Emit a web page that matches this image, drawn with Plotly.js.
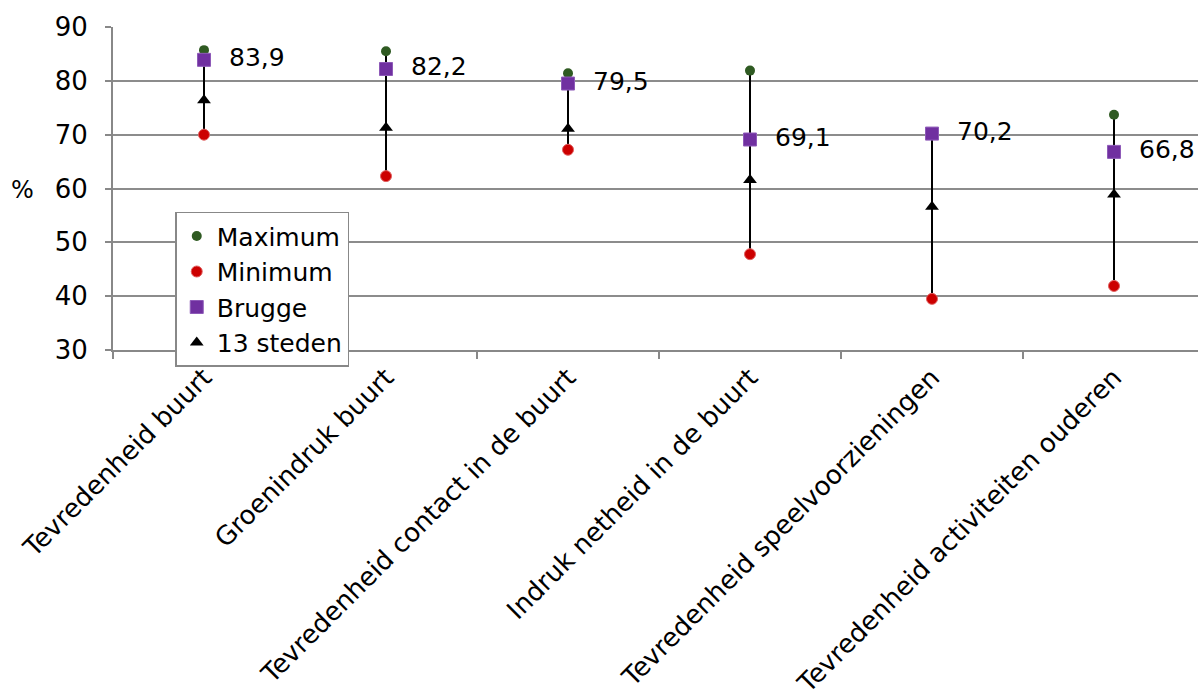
<!DOCTYPE html>
<html>
<head>
<meta charset="utf-8">
<script src="https://cdn.plot.ly/plotly-3.0.1.min.js"></script>
<style>
html,body{margin:0;padding:0;overflow:hidden;background:#fff;}
#chart{width:1210px;height:698px;}
</style>
</head>
<body>
<div id="chart"></div>
<script>
const categories = ["Tevredenheid buurt", "Groenindruk buurt", "Tevredenheid contact in de buurt", "Indruk netheid in de buurt", "Tevredenheid speelvoorzieningen", "Tevredenheid activiteiten ouderen"];
const maximum = [85.7, 85.5, 81.4, 81.9, 70.2, 73.7];
const minimum = [70.0, 62.3, 67.2, 47.8, 39.5, 41.9];
const brugge = [83.9, 82.2, 79.5, 69.1, 70.2, 66.8];
const steden13 = [76.4, 71.3, 71.1, 61.6, 56.6, 58.9];
const yTicks = [30, 40, 50, 60, 70, 80, 90];

const FONT = "DejaVu Sans, Verdana, sans-serif";

// high-low lines built from the data
const hlX = [], hlY = [];
categories.forEach((c, i) => { hlX.push(c, c, null); hlY.push(minimum[i], maximum[i], null); });

const traces = [
  {x: hlX, y: hlY, mode: 'lines', line: {color: '#000', width: 2}, showlegend: false, hoverinfo: 'skip'},
  {x: categories, y: maximum, name: 'Maximum', mode: 'markers', marker: {symbol: 'circle', size: 10, color: '#2F5A22'}},
  {x: categories, y: minimum, name: 'Minimum', mode: 'markers', marker: {symbol: 'circle', size: 11, color: '#CC0000', line: {color: '#E06060', width: 1}}},
  {x: categories, y: steden13, name: '13 steden', mode: 'markers', marker: {symbol: 'triangle-up', size: 12, color: '#000'}},
  {x: categories, y: brugge, name: 'Brugge', mode: 'markers+text', marker: {symbol: 'square', size: 13, color: '#7030A0', line: {color: '#8E5AB8', width: 1}},
   text: brugge.map(v => '  ' + v.toFixed(1).replace('.', ',')), textposition: 'middle right',
   textfont: {family: FONT, size: 25, color: '#000'}}
];

const layout = {
  width: 1210, height: 698,
  margin: {l: 113, r: 5, t: 27, b: 348},
  paper_bgcolor: '#fff', plot_bgcolor: '#fff',
  font: {family: FONT, size: 25, color: '#000'},
  showlegend: true,
  legend: {
    x: 0.057, y: 0.428, xanchor: 'left', yanchor: 'top',
    bgcolor: '#fff', bordercolor: '#888', borderwidth: 1.5,
    font: {family: FONT, size: 25, color: '#000'},
    traceorder: 'normal',
    itemwidth: 30
  },
  xaxis: {
    type: 'category', categoryorder: 'array', categoryarray: categories,
    range: [-0.5, 5.5],
    showgrid: false, showline: true, linecolor: '#888', linewidth: 2,
    ticks: 'outside', tickson: 'boundaries', ticklen: 7, tickcolor: '#888', tickwidth: 2,
    tickangle: -45, tickfont: {family: FONT, size: 26, color: '#000'},
    zeroline: false, fixedrange: true
  },
  yaxis: {
    range: [30, 90], tickvals: yTicks, ticktext: yTicks.map(String),
    showgrid: true, gridcolor: '#8c8c8c', gridwidth: 2,
    showline: true, linecolor: '#888', linewidth: 2,
    ticks: 'outside', ticklen: 6, tickcolor: '#888', tickwidth: 2,
    ticklabelstandoff: 12,
    tickfont: {family: FONT, size: 26, color: '#000'},
    zeroline: false, fixedrange: true
  },
  annotations: [{
    text: '%', xref: 'paper', yref: 'paper', x: -0.083, y: 0.495,
    xanchor: 'center', yanchor: 'middle', showarrow: false,
    font: {family: FONT, size: 24, color: '#000'}
  }]
};

// legend order: Maximum, Minimum, Brugge, 13 steden
traces[1].legendrank = 1;
traces[2].legendrank = 2;
traces[4].legendrank = 3;
traces[3].legendrank = 4;

Plotly.newPlot('chart', traces, layout, {displayModeBar: false, staticPlot: true});
</script>
</body>
</html>
